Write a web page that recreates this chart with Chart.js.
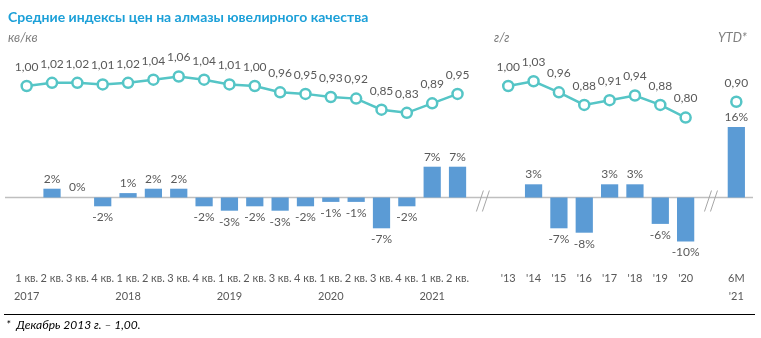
<!DOCTYPE html>
<html lang="ru">
<head>
<meta charset="utf-8">
<title>Средние индексы цен на алмазы ювелирного качества</title>
<script src="https://cdn.jsdelivr.net/npm/chart.js@4.4.1/dist/chart.umd.min.js"></script>
<style>
  html, body { margin: 0; padding: 0; background: #fff; }
  .wrap { position: relative; width: 761px; height: 338px; font-family: Lato, "Open Sans", sans-serif; }
  canvas { position: absolute; left: 0; top: 0; }
  .title { position: absolute; left: 8px; top: 8px; font-size: 14px; font-weight: bold; color: #1ca0d8; white-space: nowrap; }
  .sub { position: absolute; top: 29px; font-size: 13px; font-style: italic; color: #7f7f7f; }
  .note-line { position: absolute; left: 4px; right: 6px; top: 314px; border-top: 1px solid #000; }
  .note { position: absolute; left: 6px; top: 317px; font-size: 12px; font-style: italic; color: #000; white-space: pre; }
</style>
</head>
<body>
<div class="wrap">
  <canvas id="chart" width="761" height="338"></canvas>
  <div class="title">Средние индексы цен на алмазы ювелирного качества</div>
  <div class="sub" style="left:8px">кв/кв</div>
  <div class="sub" style="left:494px">г/г</div>
  <div class="sub" style="left:718px">YTD*</div>
  <div class="note-line"></div>
  <div class="note">*  Декабрь 2013 г. – 1,00.</div>
</div>
<script>
// quarters 2017–2021, gap, years 2013–2020, gap, first half 2021
const labels = [
  ['1 кв.', '2017'], '2 кв.', '3 кв.', '4 кв.',
  ['1 кв.', '2018'], '2 кв.', '3 кв.', '4 кв.',
  ['1 кв.', '2019'], '2 кв.', '3 кв.', '4 кв.',
  ['1 кв.', '2020'], '2 кв.', '3 кв.', '4 кв.',
  ['1 кв.', '2021'], '2 кв.',
  '',
  "'13", "'14", "'15", "'16", "'17", "'18", "'19", "'20",
  '',
  ['6M', "'21"]
];

// price index (line)
const indexQuarterly = [1.00, 1.02, 1.02, 1.01, 1.02, 1.04, 1.06, 1.04, 1.01, 1.00, 0.96, 0.95, 0.93, 0.92, 0.85, 0.83, 0.89, 0.95];
const indexYearly = [1.00, 1.03, 0.96, 0.88, 0.91, 0.94, 0.88, 0.80];
const indexYtd = [0.90];

// change, % (bars)
const changeQuarterly = [null, 2, 0, -2, 1, 2, 2, -2, -3, -2, -3, -2, -1, -1, -7, -2, 7, 7];
const changeYearly = [null, 3, -7, -8, 3, 3, -6, -10];
const changeYtd = [16];

const gapIndexes = [18, 27];

const indexData = [...indexQuarterly, null, ...indexYearly, null, ...indexYtd];
const changeData = [...changeQuarterly, null, ...changeYearly, null, ...changeYtd];

const textColor = '#595959';
const fontFamily = 'Lato, "Open Sans", sans-serif';

// zero line and "//" break marks
const axisPlugin = {
  id: 'axisBreaks',
  beforeDatasetsDraw(chart) {
    const { ctx, scales } = chart;
    const y0 = scales.y.getPixelForValue(0);
    ctx.save();
    ctx.strokeStyle = '#bfbfbf';
    ctx.lineWidth = 1.5;
    ctx.beginPath();
    ctx.moveTo(5, y0);
    ctx.lineTo(753, y0);
    ctx.stroke();
    ctx.strokeStyle = '#a6a6a6';
    ctx.lineWidth = 1;
    gapIndexes.forEach(i => {
      const x = scales.x.getPixelForValue(i);
      [-3, 3].forEach(dx => {
        ctx.beginPath();
        ctx.moveTo(x + dx - 3.5, y0 + 14);
        ctx.lineTo(x + dx + 3.5, y0 - 7);
        ctx.stroke();
      });
    });
    ctx.restore();
  }
};

// value labels over points and bars
const labelPlugin = {
  id: 'valueLabels',
  afterDatasetsDraw(chart) {
    const { ctx } = chart;
    ctx.save();
    ctx.font = `12px ${fontFamily}`;
    ctx.fillStyle = textColor;
    ctx.textAlign = 'center';
    ctx.textBaseline = 'middle';
    chart.getDatasetMeta(0).data.forEach((el, i) => {
      const v = indexData[i];
      if (v == null) return;
      ctx.fillText(v.toFixed(2).replace('.', ','), el.x, el.y - 19);
    });
    chart.getDatasetMeta(1).data.forEach((el, i) => {
      const v = changeData[i];
      if (v == null) return;
      const y = v >= 0 ? el.y - 10 : el.y + 11;
      ctx.fillText(v + '%', el.x, y);
    });
    ctx.restore();
  }
};

new Chart(document.getElementById('chart'), {
  data: {
    labels: labels,
    datasets: [
      {
        type: 'line',
        data: indexData,
        yAxisID: 'y2',
        borderColor: '#55c5c6',
        borderWidth: 2.5,
        pointRadius: 5,
        pointBorderWidth: 2.5,
        pointBackgroundColor: '#fff',
        pointBorderColor: '#55c5c6',
        spanGaps: false,
        tension: 0
      },
      {
        type: 'bar',
        data: changeData,
        yAxisID: 'y',
        backgroundColor: '#5b9bd5',
        barPercentage: 0.68,
        categoryPercentage: 1
      }
    ]
  },
  options: {
    responsive: false,
    animation: false,
    layout: { padding: { top: 40, bottom: 36, left: 14, right: 12 } },
    plugins: { legend: { display: false }, tooltip: { enabled: false } },
    scales: {
      x: {
        offset: true,
        grid: { display: false },
        border: { display: false },
        ticks: {
          autoSkip: false,
          maxRotation: 0,
          padding: 0,
          color: textColor,
          font: { family: fontFamily, size: 11, lineHeight: 1.6 }
        },
        afterFit(scale) { scale.height = 40; }
      },
      y: { display: false, min: -14.66, max: 35.8 },
      y2: { display: false, min: -0.114, max: 1.291 }
    }
  },
  plugins: [axisPlugin, labelPlugin]
});
</script>
</body>
</html>
